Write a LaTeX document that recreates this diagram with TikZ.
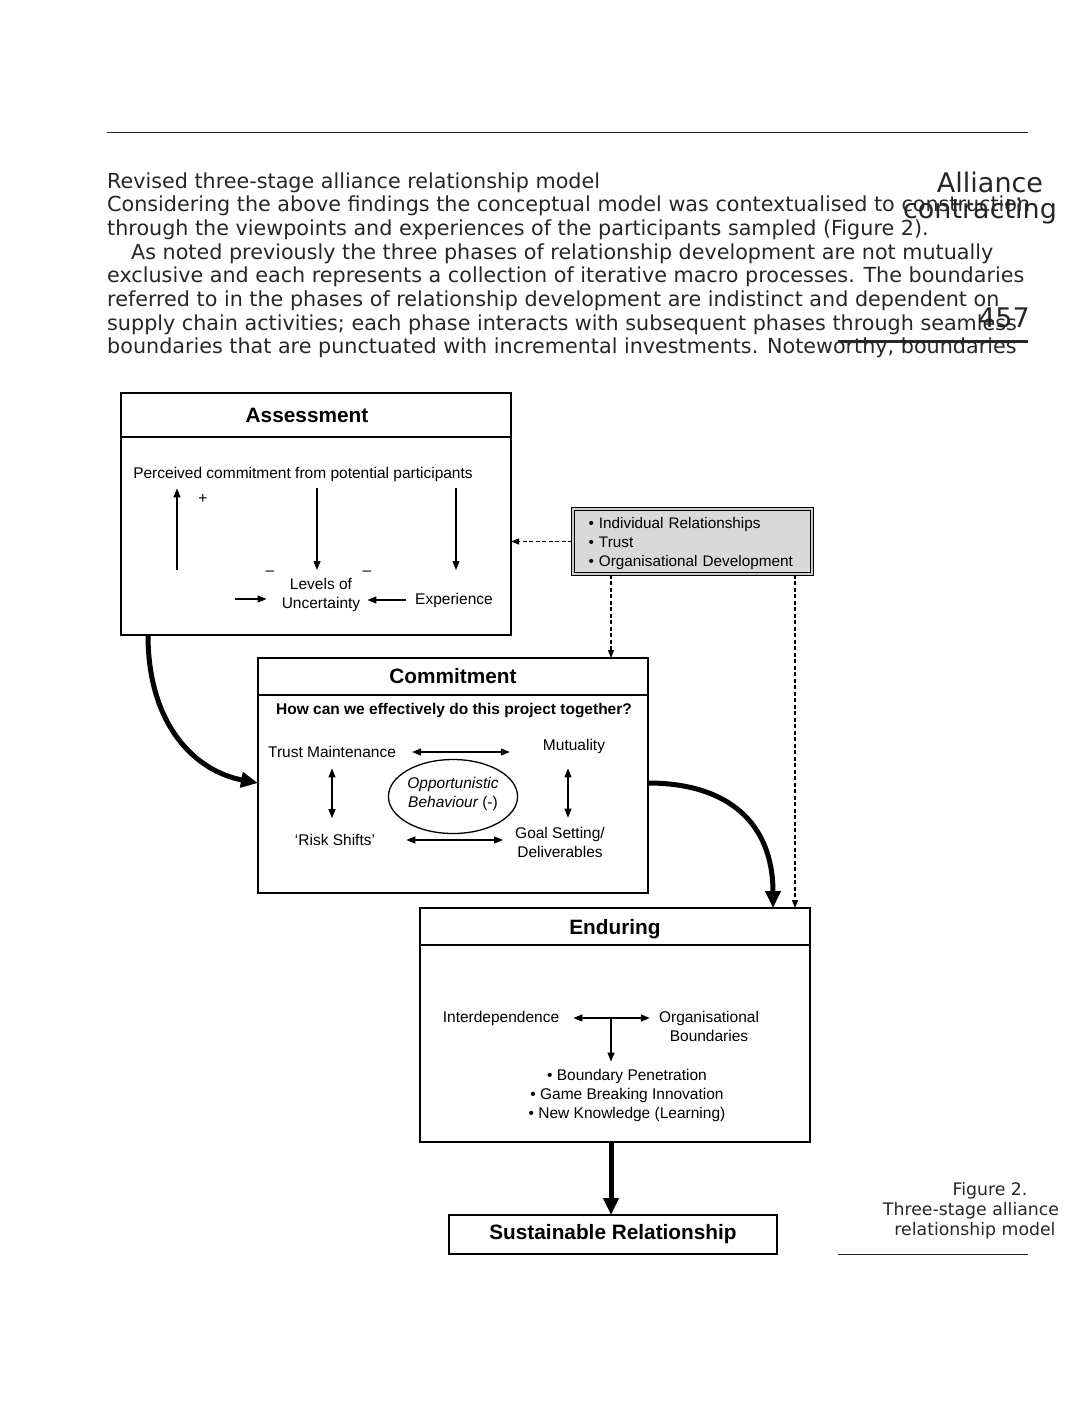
\documentclass[tikz,border=0pt]{standalone}
\usepackage{fontspec}
\setmainfont{DejaVu Sans}
\newfontfamily\figfont{Liberation Sans}
\usepackage{tikz}
\usetikzlibrary{arrows.meta, positioning, shapes.geometric}

\begin{document}
\begin{tikzpicture}[
    x=1pt, y=-1pt,
    bodyline/.style={anchor=base west, inner sep=0pt, text=black!85, font=\fontsize{20.7}{23.7}\selectfont},
    margintext/.style={anchor=base, inner sep=0pt, text=black!85, font=\fontsize{27}{30}\selectfont},
    captext/.style={anchor=base, inner sep=0pt, text=black!85, font=\fontsize{17.3}{20}\selectfont},
    phasehead/.style={draw, line width=1.4pt, minimum width=390pt, inner sep=0pt, outer sep=0pt, anchor=north west, font=\figfont\fontsize{20.8}{24}\selectfont\bfseries},
    phasebody/.style={draw, line width=1.4pt, minimum width=390pt, inner sep=0pt, outer sep=0pt},
    txt/.style={inner sep=1pt, align=center, font=\figfont\fontsize{15.5}{19}\selectfont},
    factorbox/.style={draw, line width=1.3pt, double=gray!40, double distance=1.2pt, fill=black!15, text width=208pt, inner xsep=15.5pt, minimum height=65pt, align=left, font=\figfont\fontsize{15.3}{19}\selectfont},
    arrow/.style={line width=1.3pt, -{Triangle[length=9pt,width=7pt]}},
    darrow/.style={line width=1.3pt, {Triangle[length=9pt,width=7pt]}-{Triangle[length=9pt,width=7pt]}},
    dasharrow/.style={line width=1.3pt, dash pattern=on 4pt off 2.5pt, -{Triangle[length=8pt,width=6pt]}},
    flow/.style={line width=5pt, -{Triangle[length=17pt,width=15pt]}}
]
\useasboundingbox (0,0) rectangle (1082,1417);

% Page text
\draw[line width=1pt, black!85] (107,132) -- (1028,132);
\node[bodyline] (line1) at (107,188) {Revised three-stage alliance relationship model};
\node[bodyline] (line2) at (107,211.7) {Considering the above findings the conceptual model was contextualised to construction};
\node[bodyline] (line3) at (107,235.4) {through the viewpoints and experiences of the participants sampled (Figure 2).};
\node[bodyline] (line4) at (107,259.1) {\hspace*{24pt}As noted previously the three phases of relationship development are not mutually};
\node[bodyline] (line5) at (107,282.8) {exclusive and each represents a collection of iterative macro processes. The boundaries};
\node[bodyline] (line6) at (107,306.5) {referred to in the phases of relationship development are indistinct and dependent on};
\node[bodyline] (line7) at (107,330.2) {supply chain activities; each phase interacts with subsequent phases through seamless};
\node[bodyline] (line8) at (107,353.9) {boundaries that are punctuated with incremental investments. Noteworthy, boundaries};

\node[margintext] (journal1) at (990,192) {Alliance};
\node[margintext] (journal2) at (980,218) {contracting};
\node[margintext] (pageno) at (1004,327) {457};
\draw[line width=3pt, black!85] (838,341) -- (1028,341);

\node[captext] (cap1) at (990,1195) {Figure 2.};
\node[captext] (cap2) at (971,1215) {Three-stage alliance};
\node[captext] (cap3) at (975,1235) {relationship model};
\draw[line width=1pt, black!85] (838,1254) -- (1028,1254);

% Phase boxes
\node[phasehead, minimum height=44pt] (assesshead) at (121,393) {Assessment\kern18pt};
\node[phasebody, minimum height=198pt, below=0pt of assesshead] (assessbody) {};
\node[phasehead, minimum height=37pt] (commithead) at (258,658) {Commitment};
\node[phasebody, minimum height=198pt, below=0pt of commithead] (commitbody) {};
\node[phasehead, minimum height=37pt] (endurehead) at (420,908) {\rule{0pt}{20pt}Enduring};
\node[phasebody, minimum height=197pt, below=0pt of endurehead] (endurebody) {};
\node[phasehead, minimum width=328pt, minimum height=39pt] (sustain) at (449,1215) {Sustainable Relationship};

\node[factorbox] (factors) at (692.5,541.5) {\rule{0pt}{15pt}• Individual Relationships\\• Trust\\• Organisational Development};

\coordinate (midaxis) at (611,0);
\coordinate (rightaxis) at (795,0);

% Assessment contents
\node[txt] (perceived) at (303,474) {Perceived commitment from potential participants};
\node[txt] (levels) at (321,595) {Levels of\\Uncertainty};
\node[txt] (experience) at (454,600) {Experience};
\node[txt] (plus) at (203,499) {+};
\node[txt] (minusa) at (270,573) {\textendash};
\node[txt] (minusb) at (367,573) {\textendash};

\coordinate (risefoot) at (177,570);
\coordinate (dropa) at (317,570);
\coordinate (dropb) at (456,570);
\coordinate (feedtail) at (235,599);
\draw[arrow, shorten >=6pt] (risefoot) -- (risefoot |- perceived.south);
\draw[arrow, shorten <=6pt] (dropa |- perceived.south) -- (dropa);
\draw[arrow, shorten <=6pt] (dropb |- perceived.south) -- (dropb);
\draw[arrow, shorten >=14pt] (feedtail) -- (feedtail -| levels.west);
\draw[arrow, shorten <=8pt, shorten >=6pt] (experience.west) -- (experience.west -| levels.east);

% Commitment contents
\node[txt, font=\figfont\fontsize{15.5}{19}\selectfont\bfseries] (question) at (454,711) {How can we effectively do this project together?};
\node[txt] (trust) at (332,752) {Trust Maintenance};
\node[txt] (mutual) at (574,746) {Mutuality};
\node[txt] (risk) at (335,840) {‘Risk Shifts’};
\node[txt] (goals) at (560,842.5) {Goal Setting/\\Deliverables};
\node[txt, ellipse, draw, line width=1.3pt, minimum width=128pt, minimum height=74pt, inner sep=0pt] (opport) at (453,796.5) {{\itshape Opportunistic}\\{\itshape Behaviour} (-)\rule[-8pt]{0pt}{8pt}};

\coordinate (mutualfoot) at ([xshift=-6pt]mutual.south);
\draw[darrow, shorten <=15pt, shorten >=32pt] (trust.east) -- (trust.east -| mutual.west);
\draw[darrow, shorten <=30pt, shorten >=11pt] (risk.east) -- (risk.east -| goals.west);
\draw[darrow, shorten <=9.5pt, shorten >=15pt] (trust.south) -- (trust.south |- risk.north);
\draw[darrow, shorten <=14pt, shorten >=8.5pt] (mutualfoot) -- (mutualfoot |- goals.north);

% Enduring contents
\node[txt] (interdep) at (501,1018) {Interdependence};
\node[txt] (orgbound) at (709,1026) {Organisational\\Boundaries};
\node[txt] (outcomes) at (627,1095) {• Boundary Penetration\\• Game Breaking Innovation\\• New Knowledge (Learning)};

\draw[darrow, shorten <=13pt, shorten >=8pt] (interdep.east) -- (interdep.east -| orgbound.west);
\draw[arrow, shorten >=6pt] (interdep.east -| midaxis) -- (outcomes.north -| midaxis);

% Links between phases
\draw[dasharrow] (factors.west) -- (factors.west -| assessbody.east);
\draw[dasharrow] (factors.south -| midaxis) -- (commithead.north -| midaxis);
\draw[dasharrow] (factors.south -| rightaxis) -- (endurehead.north -| rightaxis);

\draw[flow] ([xshift=-168pt]assessbody.south) .. controls +(0,90) and +(-63,-12) .. ([yshift=11pt]commitbody.west);
\draw[flow] ([yshift=11pt]commitbody.east) .. controls +(80,0) and +(0,-85) .. ([xshift=158pt]endurehead.north);
\draw[flow] (endurebody.south -| midaxis) -- (sustain.north -| midaxis);

\end{tikzpicture}
\end{document}
